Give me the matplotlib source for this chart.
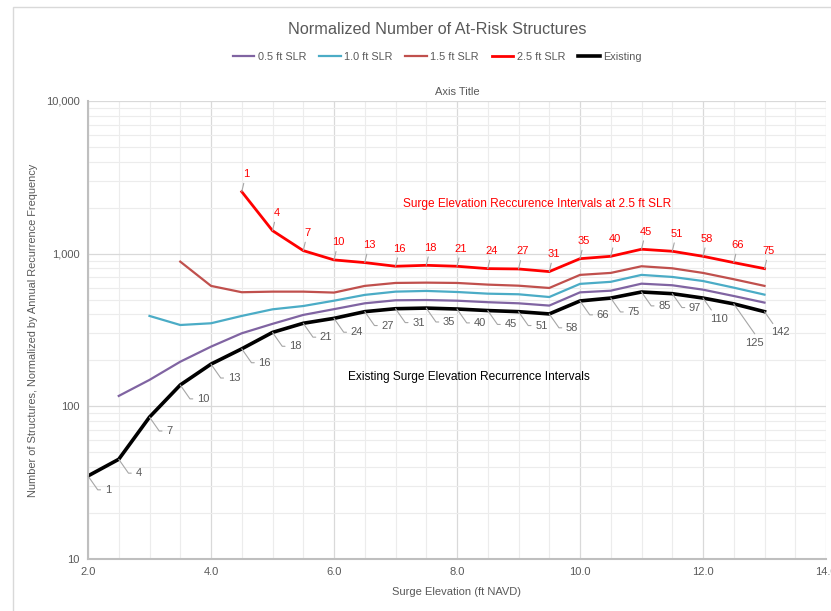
import matplotlib.pyplot as plt
import matplotlib.patches as mpatches
from matplotlib.ticker import FixedLocator, FuncFormatter, NullFormatter
import numpy as np

plt.rcParams['font.family'] = ['Liberation Sans Narrow', 'Liberation Sans', 'DejaVu Sans']

# surge elevations (ft NAVD)
elev = [2.0, 2.5, 3.0, 3.5, 4.0, 4.5, 5.0, 5.5, 6.0, 6.5, 7.0, 7.5,
        8.0, 8.5, 9.0, 9.5, 10.0, 10.5, 11.0, 11.5, 12.0, 12.5, 13.0]

existing = [35, 45, 85, 138, 189, 238, 305, 350, 377, 417, 436, 440,
            434, 424, 417, 403, 490, 512, 561, 547, 512, 469, 417]
slr_05 = [117, 149, 196, 246, 301, 347, 397, 433, 473, 495, 497,
          492, 481, 473, 457, 558, 572, 636, 621, 581, 528, 478]      # from 2.5
slr_10 = [391, 341, 350, 391, 432, 454, 492, 537, 564, 570,
          561, 547, 542, 520, 634, 654, 726, 704, 662, 599, 539]      # from 3.0
slr_15 = [887, 615, 559, 564, 564, 556, 615, 643, 646,
          643, 627, 617, 596, 726, 748, 827, 802, 748, 680, 615]      # from 3.5
slr_25 = [2546, 1415, 1047, 910, 874, 827, 839,
          827, 798, 794, 763, 927, 961, 1069, 1037, 961, 874, 798]    # from 4.5

# recurrence interval labels
existing_ri = [1, 4, 7, 10, 13, 16, 18, 21, 24, 27, 31, 35, 40, 45, 51, 58,
               66, 75, 85, 97, 110, 125, 142]
slr25_ri = [1, 4, 7, 10, 13, 16, 18, 21, 24, 27, 31, 35, 40, 45, 51, 58, 66, 75]

gray_txt = '#595959'
lead = '#a6a6a6'

fig = plt.figure(figsize=(8.31, 6.11), dpi=100)
ax = fig.add_axes([88/831, 1-559/611, (826-88)/831, (559-101)/611])

ax.plot(elev[1:], slr_05, color='#8064A2', lw=1.6, label='0.5 ft SLR')
ax.plot(elev[2:], slr_10, color='#4BACC6', lw=1.6, label='1.0 ft SLR')
ax.plot(elev[3:], slr_15, color='#C0504D', lw=1.6, label='1.5 ft SLR')
ax.plot(elev[5:], slr_25, color='#FF0000', lw=2.0, label='2.5 ft SLR')
ax.plot(elev, existing, color='black', lw=2.6, label='Existing')

ax.set_yscale('log')
ax.set_xlim(2, 14)
ax.set_ylim(10, 10000)

ax.xaxis.set_major_locator(FixedLocator(np.arange(2, 14.1, 2)))
ax.xaxis.set_minor_locator(FixedLocator(np.arange(2, 14.1, 0.5)))
ax.xaxis.set_major_formatter(FuncFormatter(lambda v, p: f'{v:.1f}'))
ax.yaxis.set_major_formatter(FuncFormatter(lambda v, p: f'{int(v):,}'))
ax.yaxis.set_minor_formatter(NullFormatter())
ax.grid(which='major', color='#d9d9d9', lw=0.9)
ax.grid(which='minor', color='#ececec', lw=0.8)
ax.set_axisbelow(True)
ax.tick_params(which='both', length=0, labelsize=8, colors=gray_txt, pad=6)
for s in ['top', 'right']:
    ax.spines[s].set_visible(False)
for s in ['left', 'bottom']:
    ax.spines[s].set_color('#bfbfbf')
    ax.spines[s].set_linewidth(1.5)

# black labels below-right with elbow leaders
for i, (x, y, t) in enumerate(zip(elev, existing, existing_ri)):
    dx, dy = 12, -10
    if t == 125:
        dx, dy = 8, -28
    elif t in (110, 142):
        dx, dy = 5, -15
    ax.annotate(str(t), (x, y), xytext=(dx, dy), textcoords='offset points',
                ha='left', va='center', fontsize=8, color=gray_txt,
                arrowprops=dict(arrowstyle='-', color=lead, lw=0.8,
                                shrinkA=1, shrinkB=0,
                                connectionstyle='angle,angleA=0,angleB=-55'))

# red labels above
for x, y, t in zip(elev[5:], slr_25, slr25_ri):
    ax.annotate(str(t), (x, y), xytext=(3, 9), textcoords='offset points',
                ha='center', va='bottom', fontsize=8, color='#FF0000',
                arrowprops=dict(arrowstyle='-', color=lead, lw=0.8,
                                shrinkA=1, shrinkB=0))

ax.text(9.3, 2110, 'Surge Elevation Reccurence Intervals at 2.5 ft SLR',
        color='#FF0000', fontsize=8.6, ha='center', va='center')
ax.text(8.2, 156, 'Existing Surge Elevation Recurrence Intervals',
        color='black', fontsize=8.6, ha='center', va='center')

ax.set_title('Axis Title', fontsize=8, color=gray_txt, pad=4)
ax.set_xlabel('Surge Elevation (ft NAVD)', fontsize=8, color=gray_txt, labelpad=7)
ax.set_ylabel('Number of Structures, Normalized by Annual Recurrence Frequency',
              fontsize=7.9, color=gray_txt, labelpad=6)

fig.text(437/831, 1-29/611, 'Normalized Number of At-Risk Structures',
         fontsize=11.7, color=gray_txt, ha='center', va='center')
fig.legend(loc='center', bbox_to_anchor=(437/831, 1-57/611), ncol=5,
           frameon=False, fontsize=7.8, handlelength=2.0, columnspacing=1.2,
           handletextpad=0.3, labelcolor=gray_txt)

fig.patches.append(mpatches.Rectangle((13/831, -0.1), 1, 1.1-7/611,
                                      transform=fig.transFigure, fill=False,
                                      edgecolor='#d9d9d9', lw=1))

fig.savefig('out.png', dpi=100)
